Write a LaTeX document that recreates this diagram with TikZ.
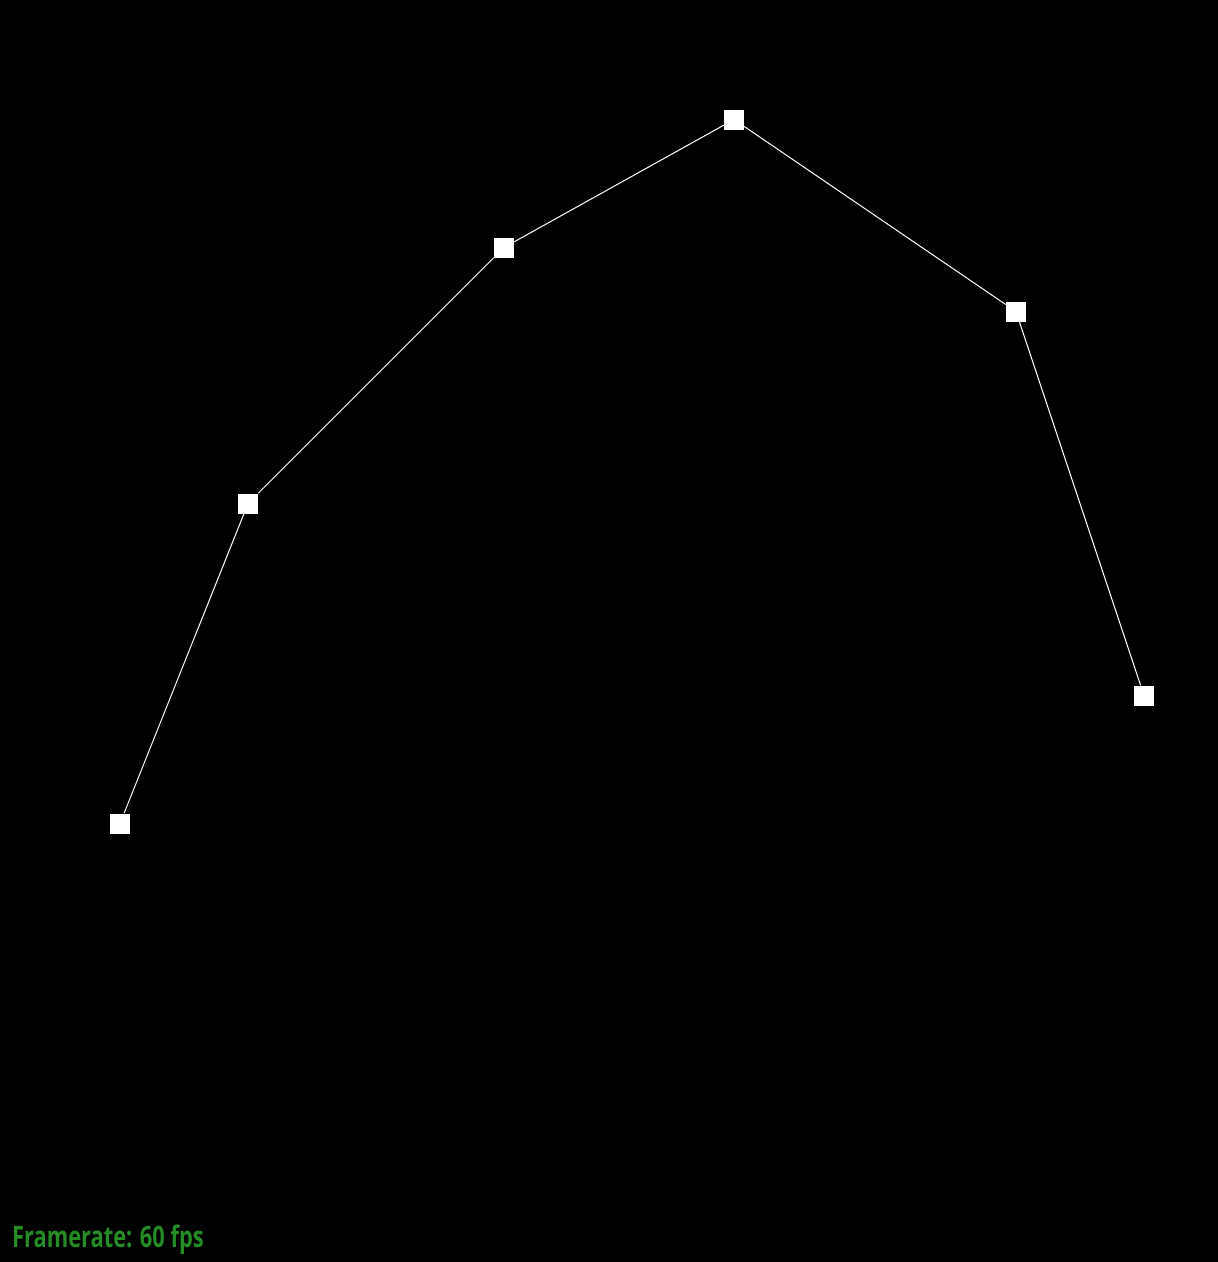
\documentclass[tikz,border=0pt]{standalone}
\usepackage{fontspec}
\newfontfamily\hudfont[FakeStretch=0.74]{Open Sans}
\usetikzlibrary{positioning}
\definecolor{hudgreen}{RGB}{38,140,38}

\begin{document}
\begin{tikzpicture}[
x=1pt, y=-1pt,
vertex/.style={fill=white, draw=none, minimum size=20pt, inner sep=0pt},
edge/.style={draw=white, line width=1pt},
hud/.style={text=hudgreen, anchor=base west, inner sep=0pt, font=\hudfont\bfseries\fontsize{29.5}{32}\selectfont}
]
\fill[black] (0,0) rectangle (1218,1262);
\useasboundingbox (0,0) rectangle (1218,1262);
\node[vertex] (p1) at (120,823.5) {};
\node[vertex] (p2) at (248,503.5) {};
\node[vertex] (p3) at (504,247.5) {};
\node[vertex] (p4) at (734,119.5) {};
\node[vertex] (p5) at (1016,311.5) {};
\node[vertex] (p6) at (1144,695.5) {};
\draw[edge] (p1) -- (p2);
\draw[edge] (p2) -- (p3);
\draw[edge] (p3) -- (p4);
\draw[edge] (p4) -- (p5);
\draw[edge] (p5) -- (p6);
\node[hud] (fps) at (12,1247) {Framerate: 60 fps};
\end{tikzpicture}
\end{document}
